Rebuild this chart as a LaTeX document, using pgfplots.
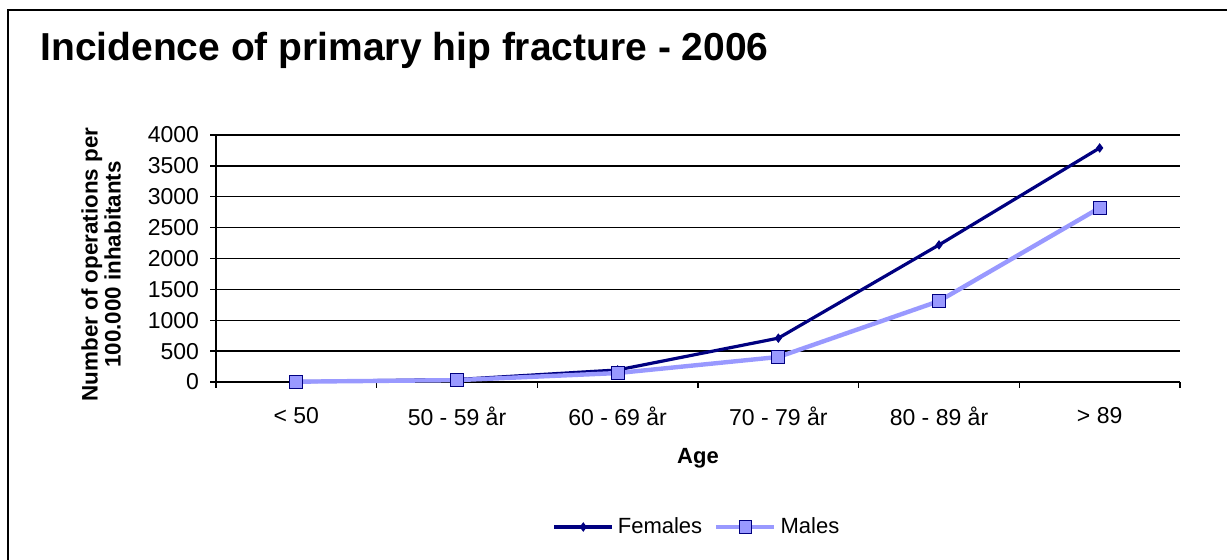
\documentclass[border=0pt]{standalone}
\usepackage{pgfplots}
\pgfplotsset{compat=1.18}
\usepackage{fontspec}
\setmainfont{Liberation Sans}
\definecolor{fem}{HTML}{000080}
\definecolor{mal}{HTML}{9999FF}
\begin{document}
\begin{tikzpicture}
\useasboundingbox (0,0) rectangle (613.5pt,-280pt);
\draw[line width=1.3pt] (4pt,-285pt) -- (4pt,-5pt) -- (620pt,-5pt);
\node[anchor=base west,font=\fontsize{19.5}{21}\selectfont\bfseries,inner sep=0pt] at (20pt,-30.5pt) {Incidence of primary hip fracture - 2006};
\begin{axis}[
  at={(108pt,-191pt)}, anchor=south west,
  scale only axis, width=482pt, height=123.5pt,
  xmin=-0.5, xmax=5.5, ymin=0, ymax=4000,
  axis x line*=bottom, axis y line*=left,
  axis line style={line width=0.8pt, black},
  xtick={0,...,5},
  xticklabels={{< 50},{50 - 59 år},{60 - 69 år},{70 - 79 år},{80 - 89 år},{> 89}},
  minor xtick={-0.5,0.5,1.5,2.5,3.5,4.5,5.5},
  major x tick style={draw=none},
  minor tick length=3pt,
  ytick={0,500,...,4000},
  major tick length=3pt,
  tick align=outside,
  tick style={black, line width=0.7pt},
  ymajorgrids,
  grid style={black, line width=0.7pt},
  /pgf/number format/assume math mode=true,
  /pgf/number format/1000 sep={},
  ticklabel style={font=\fontsize{11.5}{12}\selectfont},
  xticklabel style={yshift=-6pt},
  yticklabel style={xshift=-2pt},
  xlabel={Age},
  xlabel style={at={(axis description cs:0.5,0)}, anchor=center, yshift=-38pt, font=\fontsize{11}{12}\selectfont\bfseries},
  ylabel={Number of operations per\\100.000 inhabitants},
  ylabel style={at={(axis description cs:0,0.5)}, anchor=center, yshift=57.5pt, xshift=-3pt, align=center, font=\fontsize{11.2}{11.5}\selectfont\bfseries},
  legend style={at={(axis description cs:0.5,0)}, anchor=center, yshift=-72.5pt, draw=none, fill=none, font=\fontsize{11}{12}\selectfont, /tikz/every even column/.append style={column sep=4pt}},
  legend columns=2,
  legend image code/.code={\draw[mark repeat=2,mark phase=2,#1] plot coordinates {(0pt,0pt) (14.5pt,0pt) (29pt,0pt)};},
  clip=false,
]
\addplot[fem, line width=1.6pt, mark=diamond*, mark size=2pt, mark options={fill=fem, draw=fem, line width=0.5pt}]
  coordinates {(0,5) (1,40) (2,195) (3,710) (4,2220) (5,3790)};
\addlegendentry{Females}
\addplot[mal, line width=2.2pt, mark=square*, mark size=3.2pt, mark options={fill=mal, draw=fem, line width=0.5pt}]
  coordinates {(0,5) (1,30) (2,145) (3,405) (4,1310) (5,2820)};
\addlegendentry{Males}
\end{axis}
\end{tikzpicture}
\end{document}
